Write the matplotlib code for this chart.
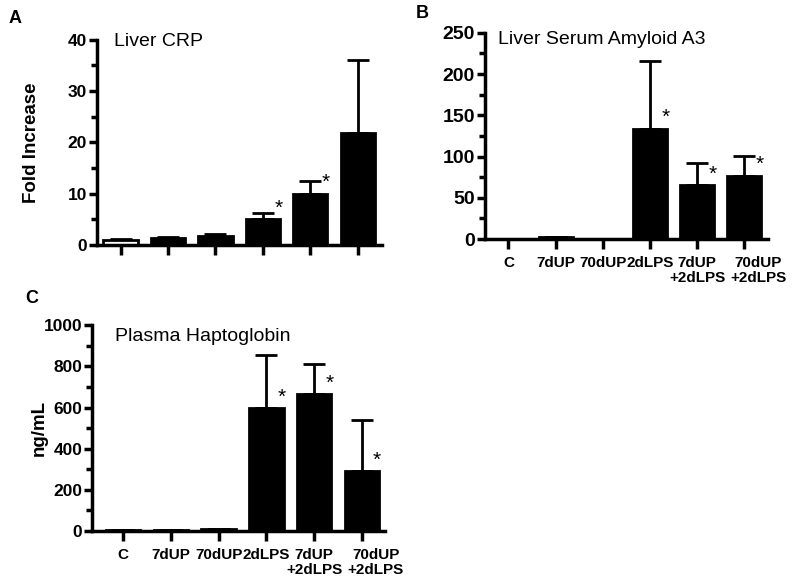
import numpy as np
import matplotlib
matplotlib.use('Agg')
import matplotlib.pyplot as plt
import matplotlib.transforms as mtransforms
from matplotlib.ticker import MultipleLocator

plt.rcParams['font.family'] = ['Liberation Sans', 'DejaVu Sans']

groups = ['C', '7dUP', '70dUP', '2dLPS', '7dUP\n+2dLPS', '70dUP\n+2dLPS']

# Liver CRP (fold increase): mean and top of error bar
crp_mean = [1.0, 1.3, 1.7, 5.0, 10.0, 21.8]
crp_top = [1.15, 1.5, 2.1, 6.2, 12.5, 36.0]
crp_star = [False, False, False, True, True, False]

# Liver serum amyloid A3 (fold increase)
saa_mean = [0.5, 2.0, 0.5, 134, 65, 77]
saa_top = [0.7, 3.0, 0.7, 216, 92, 101]
saa_star = [False, False, False, True, True, True]

# Plasma haptoglobin (ng/mL)
hp_mean = [3, 5, 8, 598, 665, 292]
hp_top = [4, 6, 10, 855, 812, 538]
hp_star = [False, False, False, True, True, True]

fig = plt.figure(figsize=(8, 5.86), dpi=100)

axA = fig.add_axes([0.121, 0.582, 0.356, 0.350])
axB = fig.add_axes([0.606, 0.592, 0.354, 0.352])
axC = fig.add_axes([0.115, 0.094, 0.366, 0.351])


def panel(ax, mean, top, stars, title, title_x, title_y, ymax, major, minor, ticksize,
          ylabel=None, xlabels=True, open_first=False, xlim=(-0.5, 5.5)):
    x = np.arange(len(mean))
    mean = np.array(mean, dtype=float)
    top = np.array(top, dtype=float)
    colors = ['black'] * len(mean)
    if open_first:
        colors[0] = 'white'
    ax.errorbar(x, mean, yerr=[np.zeros_like(mean), top - mean], fmt='none',
                ecolor='black', elinewidth=2, capsize=8, capthick=2, zorder=1)
    ax.bar(x, mean, width=0.72, color=colors, edgecolor='black', linewidth=2, zorder=2)
    for xi, yi, s in zip(x, mean, stars):
        if s:
            ax.annotate('*', (xi, yi), xytext=(11, 1), textcoords='offset points',
                        ha='center', va='bottom', fontsize=15)
    ax.set_xlim(*xlim)
    ax.set_ylim(0, ymax)
    ax.yaxis.set_major_locator(MultipleLocator(major))
    ax.yaxis.set_minor_locator(MultipleLocator(minor))
    for side in ['top', 'right']:
        ax.spines[side].set_visible(False)
    for side in ['left', 'bottom']:
        ax.spines[side].set_linewidth(2.5)
    ax.tick_params(axis='y', which='major', length=6, width=2.5, labelsize=ticksize, pad=1)
    ax.tick_params(axis='y', which='minor', length=4, width=2.5)
    ax.tick_params(axis='x', length=7, width=2.5, labelsize=11, pad=5)
    for lab in ax.get_yticklabels():
        lab.set_fontweight('bold')
    ax.set_xticks(x)
    if xlabels:
        ax.set_xticklabels(groups, fontweight='bold', linespacing=1.1)
        last = ax.get_xticklabels()[-1]
        last.set_transform(last.get_transform() +
                           mtransforms.ScaledTranslation(14 / 100, 0, fig.dpi_scale_trans))
    else:
        ax.set_xticklabels([])
    ax.text(title_x, title_y, title, transform=ax.transAxes, ha='left', va='top', fontsize=14)
    if ylabel:
        ax.set_ylabel(ylabel, fontsize=13.5, fontweight='bold')


panel(axA, crp_mean, crp_top, crp_star, 'Liver CRP', 0.062, 1.035, 40, 10, 5, 12.5,
      ylabel='Fold Increase', xlabels=False, open_first=True)
panel(axB, saa_mean, saa_top, saa_star, 'Liver Serum Amyloid A3', 0.045, 1.01, 250, 50, 25, 14)
panel(axC, hp_mean, hp_top, hp_star, 'Plasma Haptoglobin', 0.078, 0.985, 1000, 200, 100, 12.5,
      ylabel='ng/mL', xlim=(-0.65, 5.48))

axA.yaxis.set_label_coords(-0.2, 0.5)
axC.yaxis.set_label_coords(-0.15, 0.5)

fig.text(0.019, 0.968, 'A', fontsize=13, fontweight='bold', ha='center', va='center')
fig.text(0.528, 0.977, 'B', fontsize=13, fontweight='bold', ha='center', va='center')
fig.text(0.040, 0.491, 'C', fontsize=13, fontweight='bold', ha='center', va='center')

fig.savefig('out.png', dpi=100)
